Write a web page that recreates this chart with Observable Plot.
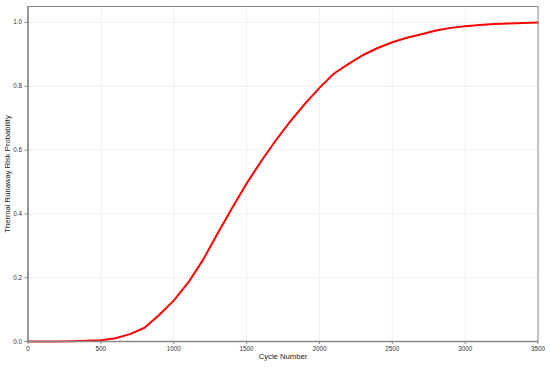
<!DOCTYPE html>
<html>
<head>
<meta charset="utf-8">
<script src="https://cdn.jsdelivr.net/npm/d3@7"></script>
<script src="https://cdn.jsdelivr.net/npm/@observablehq/plot@0.6"></script>
<style>
  html, body { margin: 0; padding: 0; background: #fff; }
</style>
</head>
<body>
<div id="chart"></div>
<script>
const cycles = [0,100,200,300,400,500,600,700,800,900,1000,1100,1200,1300,1400,1500,1600,1700,1800,1900,2000,2100,2200,2300,2400,2500,2600,2700,2800,2900,3000,3100,3200,3300,3400,3500];
const risk = [0.000,0.000,0.000,0.001,0.002,0.004,0.010,0.023,0.043,0.083,0.128,0.185,0.255,0.338,0.418,0.495,0.565,0.630,0.690,0.745,0.795,0.840,0.870,0.898,0.920,0.938,0.952,0.963,0.975,0.983,0.988,0.992,0.995,0.997,0.998,1.000];
const xTicks = [0,500,1000,1500,2000,2500,3000,3500];
const yTicks = [0,0.2,0.4,0.6,0.8,1.0];
const xTitle = "Cycle Number";
const yTitle = "Thermal Runaway Risk Probability";

const data = cycles.map((c, i) => ({cycle: c, risk: risk[i]}));

const chart = Plot.plot({
  width: 550,
  height: 370,
  marginLeft: 27.5,
  marginRight: 12.5,
  marginTop: 6,
  marginBottom: 29,
  style: {fontFamily: "Liberation Sans, Arial, sans-serif", fontSize: "6.3px", color: "#333", background: "#fff"},
  x: {domain: [0, 3500]},
  y: {domain: [0, 1.05]},
  marks: [
    Plot.gridX(xTicks, {stroke: "#ebebeb", strokeOpacity: 1, strokeWidth: 0.8}),
    Plot.gridY(yTicks, {stroke: "#ebebeb", strokeOpacity: 1, strokeWidth: 0.8}),
    Plot.line(data, {x: "cycle", y: "risk", stroke: "#ff0000", strokeWidth: 2}),
    Plot.frame({stroke: "#8a8a8a", strokeWidth: 1}),
    Plot.ruleY([0], {stroke: "#8a8a8a", strokeWidth: 1.5}),
    Plot.ruleX([0], {stroke: "#8a8a8a", strokeWidth: 1.5}),
    Plot.axisX(xTicks, {tickSize: 3, tickPadding: 2, stroke: "#8a8a8a", fill: "#333", tickFormat: d3.format("d"), label: null}),
    Plot.axisY(yTicks, {tickSize: 3, tickPadding: 3, stroke: "#8a8a8a", fill: "#333", tickFormat: d3.format(".1f"), label: null}),
    Plot.text([xTitle], {frameAnchor: "bottom", dy: 17, fontSize: 7.7, fill: "#222", text: d => d}),
    Plot.text([yTitle], {frameAnchor: "left", textAnchor: "middle", dx: -20, rotate: -90, fontSize: 7.7, fill: "#222", text: d => d})
  ]
});
document.getElementById("chart").appendChild(chart);
</script>
</body>
</html>
